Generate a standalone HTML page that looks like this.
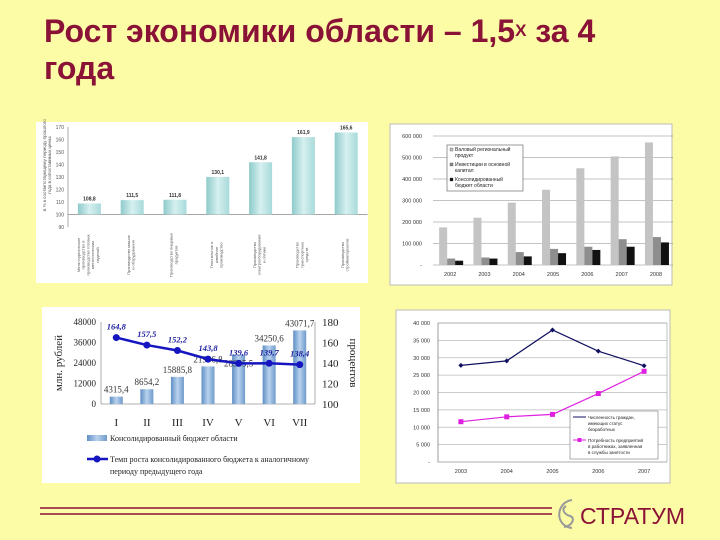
<!DOCTYPE html>
<html><head><meta charset="utf-8">
<style>
html,body{margin:0;padding:0;background:#FCFCA6;}
#root{position:relative;width:720px;height:540px;overflow:hidden;background:#FCFCA6;font-family:"Liberation Sans","Noto Sans CJK SC",sans-serif;}
.title{position:absolute;left:44px;top:13px;font-size:32px;font-weight:bold;color:#8A1236;line-height:37px;margin:0;white-space:nowrap;}
.title sup{font-size:17px;vertical-align:top;position:relative;top:-1px;}
svg{position:absolute;left:0;top:0;}
</style></head>
<body>
<div id="root">
<h1 class="title">Рост экономики области – 1,5<sup>Х</sup> за 4<br>года</h1>
<svg id="s" width="720" height="540" viewBox="0 0 720 540" font-family="Liberation Sans, sans-serif">
 <defs>
  <linearGradient id="gTeal" x1="0" x2="1"><stop offset="0" stop-color="#8ECACA"/><stop offset="0.5" stop-color="#D6F0F0"/><stop offset="1" stop-color="#A8DADA"/></linearGradient>
  <linearGradient id="gBlue" x1="0" x2="1"><stop offset="0" stop-color="#5F8FC4"/><stop offset="0.5" stop-color="#B9D2EE"/><stop offset="1" stop-color="#6E9ACB"/></linearGradient>
 </defs>
 <rect x="36" y="122" width="332" height="161" fill="#fff"/>
 <rect x="390" y="124" width="282" height="161" fill="#fff" stroke="#bbb"/>
 <rect x="42" y="307" width="318" height="176" fill="#fff"/>
 <rect x="396" y="310" width="274" height="173" fill="#fff" stroke="#bbb"/>
 <g id="c1"></g><g id="c2"></g><g id="c3"></g><g id="c4"></g>
 <line x1="40" y1="508" x2="552" y2="508" stroke="#8A1236" stroke-width="1.5"/>
 <line x1="40" y1="514" x2="552" y2="514" stroke="#8A1236" stroke-width="1.5"/>
 <path d="M572 500 C556 502 554 526 572 528 M566 506 C560 510 566 515 570 516 C576 518 572 526 564 527" fill="none" stroke="#999" stroke-width="2"/>
 <text x="580" y="524" font-size="23" fill="#8A1236">СТРАТУМ</text>
</svg>
</div>
<script>
// ---- chart 1 data
const c1Cats=["Металлургическое|производство и|производство готовых|металлических|изделий","Производство машин|и оборудования","Производство пищевых|продуктов","Текстильное и|швейное|производство","Производство|электрооборудования|и оптики","Производство|транспортных|средств","Производство|стройматериалов"];
const c1Vals=[108.8,111.5,111.8,130.1,141.8,161.9,165.6];
const c1Labels=["108,8","111,5","111,8","130,1","141,8","161,9","165,6"];
const c1Ticks=[90,100,110,120,130,140,150,160,170];
// ---- chart 2 data
const c2Years=["2002","2003","2004","2005","2006","2007","2008"];
const c2Grp=[175000,220000,290000,350000,450000,505000,570000];
const c2Inv=[30000,35000,60000,75000,85000,120000,130000];
const c2Bud=[20000,30000,40000,55000,70000,85000,105000];
const c2Ticks=[0,100000,200000,300000,400000,500000,600000];
const c2TickLabels=["-","100 000","200 000","300 000","400 000","500 000","600 000"];
// ---- chart 3 data
const c3Cats=["I","II","III","IV","V","VI","VII"];
const c3Budget=[4315.4,8654.2,15885.8,21996.8,28905.5,34250.6,43071.7];
const c3BudgetLabels=["4315,4","8654,2","15885,8","21996,8","28905,5","34250,6","43071,7"];
const c3Rate=[164.8,157.5,152.2,143.8,139.6,139.7,138.4];
const c3RateLabels=["164,8","157,5","152,2","143,8","139,6","139,7","138,4"];
const c3LeftTicks=[0,12000,24000,36000,48000];
const c3RightTicks=[100,120,140,160,180];
// ---- chart 4 data
const c4Years=["2003","2004","2005","2006","2007"];
const c4Unemp=[27800,29100,38000,31900,27700];
const c4Demand=[11600,13000,13700,19700,26100];
const c4Ticks=[0,5000,10000,15000,20000,25000,30000,35000,40000];
const c4TickLabels=["-","5 000","10 000","15 000","20 000","25 000","30 000","35 000","40 000"];

const NS="http://www.w3.org/2000/svg";
function mk(p,tag,at,txt){const e=document.createElementNS(NS,tag);for(const k in at)e.setAttribute(k,at[k]);if(txt!==undefined)e.textContent=txt;p.appendChild(e);return e;}

// ===== chart 1
(function(){
 const g=document.getElementById('c1');
 const y=v=>127+(170-v)*1.25, x0=68, step=42.8, x=i=>x0+step*(i+0.5);
 c1Ticks.forEach(t=>{const e=mk(g,'text',{x:64,y:y(t)+2,'font-size':5,'text-anchor':'end',fill:'#555'},String(t));
 });
 mk(g,'line',{x1:x0,y1:y(170),x2:x0,y2:y(90),stroke:'#888','stroke-width':0.7});
 mk(g,'line',{x1:x0,y1:y(100),x2:x0+step*7,y2:y(100),stroke:'#888','stroke-width':0.7});
 const yt=mk(g,'text',{x:0,y:0,'font-size':4.5,fill:'#555','text-anchor':'middle',transform:'translate(46,165) rotate(-90)'});
 
 mk(yt,'tspan',{x:0,dy:0},"в % к соответствующему периоду прошлого");
 mk(yt,'tspan',{x:0,dy:5},"года в сопоставимых ценах");
 c1Vals.forEach((v,i)=>{
  const b=mk(g,'rect',{x:x(i)-11.5,y:y(v),width:23,height:y(100)-y(v),fill:'url(#gTeal)'});
  
  const l=mk(g,'text',{x:x(i),y:y(v)-3,'font-size':5,'font-weight':'bold','text-anchor':'middle',fill:'#333'},c1Labels[i]);
  
  const lines=c1Cats[i].split('|');
  const c=mk(g,'text',{x:0,y:0,'font-size':4,fill:'#555','text-anchor':'middle',transform:`translate(${x(i)-(lines.length-1)*2.4},255) rotate(-90)`});
  
  lines.forEach((s,k)=>mk(c,'tspan',{x:0,dy:k?4.8:0},s));
 });
})();

// ===== chart 2
(function(){
 const g=document.getElementById('c2');
 const y=v=>265-v/600000*129, x0=433, step=34.3, cx=i=>x0+step*(i+0.5);
 c2Ticks.forEach((t,i)=>{
  mk(g,'line',{x1:x0,y1:y(t),x2:673,y2:y(t),stroke:'#888','stroke-width':0.6});
  const e=mk(g,'text',{x:422,y:y(t)+2,'font-size':5.5,'text-anchor':'end',fill:'#333'},c2TickLabels[i]);
  
 });
 c2Years.forEach((yr,i)=>{
  [[c2Grp,'#C4C4C4',-11],[c2Inv,'#8E8E8E',-3],[c2Bud,'#111',5]].forEach(([arr,col,off])=>{
   const b=mk(g,'rect',{x:cx(i)+off,y:y(arr[i]),width:8,height:y(0)-y(arr[i]),fill:col});
   
  });
  const t=mk(g,'text',{x:cx(i),y:276,'font-size':5.5,'text-anchor':'middle',fill:'#333'},yr);
  
 });
 const lg=mk(g,'g',{});
 mk(lg,'rect',{x:447,y:145,width:76,height:46,fill:'#fff',stroke:'#555','stroke-width':0.6});
 [['#C4C4C4','Валовый региональный','продукт'],['#8E8E8E','Инвестиции в основной','капитал'],['#111','Консолидированный','бюджет области']].forEach((it,k)=>{
  mk(lg,'rect',{x:450,y:148+k*15,width:3,height:3,fill:it[0],stroke:'#333','stroke-width':0.3});
  mk(lg,'text',{x:455,y:151+k*15,'font-size':5,fill:'#222'},it[1]);
  mk(lg,'text',{x:455,y:157+k*15,'font-size':5,fill:'#222'},it[2]);
 });
})();

// ===== chart 3
(function(){
 const g=document.getElementById('c3');
 const yl=v=>404-v/48000*82, yr=v=>404-(v-100)/80*82, x0=101, x1=315, step=(x1-x0)/7, cx=i=>x0+step*(i+0.5);
 mk(g,'line',{x1:x0,y1:322,x2:x0,y2:404,stroke:'#999','stroke-width':0.8});
 mk(g,'line',{x1:x1,y1:322,x2:x1,y2:404,stroke:'#999','stroke-width':0.8});
 mk(g,'line',{x1:x0,y1:404,x2:x1,y2:404,stroke:'#999','stroke-width':0.8});
 c3LeftTicks.forEach(t=>{const e=mk(g,'text',{x:96,y:yl(t)+3,'font-size':9,'text-anchor':'end',fill:'#222','font-family':'Liberation Serif, serif'},String(t));
  });
 c3RightTicks.forEach(t=>{const e=mk(g,'text',{x:322,y:yr(t)+4,'font-size':11,fill:'#222','font-family':'Liberation Serif, serif'},String(t));
  });
 const lt=mk(g,'text',{x:0,y:0,'font-size':11,'text-anchor':'middle',fill:'#222','font-family':'Liberation Serif, serif',transform:'translate(62,363) rotate(-90)'},'млн. рублей');
 
 const rt=mk(g,'text',{x:0,y:0,'font-size':11,'text-anchor':'middle',fill:'#222','font-family':'Liberation Serif, serif',transform:'translate(350,363) rotate(90)'},'процентов');
 
 c3Cats.forEach((c,i)=>{
  const b=mk(g,'rect',{x:cx(i)-6.5,y:yl(c3Budget[i]),width:13,height:404-yl(c3Budget[i]),fill:'url(#gBlue)'});
  
  const t=mk(g,'text',{x:cx(i),y:426,'font-size':11,'text-anchor':'middle',fill:'#222','font-family':'Liberation Serif, serif'},c);
  
  const l=mk(g,'text',{x:cx(i),y:i==4?yl(c3Budget[i])+12:yl(c3Budget[i])-4,'font-size':9,'text-anchor':'middle',fill:'#333','font-family':'Liberation Serif, serif'},c3BudgetLabels[i]);
  
 });
 const pts=c3Rate.map((v,i)=>cx(i)+','+yr(v)).join(' ');
 const pl=mk(g,'polyline',{points:pts,fill:'none',stroke:'#1616C0','stroke-width':2.5});
 
 c3Rate.forEach((v,i)=>{
  const p=mk(g,'circle',{cx:cx(i),cy:yr(v),r:3.5,fill:'#1616C0'});
  
  const l=mk(g,'text',{x:cx(i),y:yr(v)-8,'font-size':8.5,'font-weight':'bold','font-style':'italic','text-anchor':'middle',fill:'#2020A0','font-family':'Liberation Serif, serif'},c3RateLabels[i]);
  
 });
 const lg=mk(g,'g',{});
 mk(lg,'rect',{x:87,y:435,width:20,height:6,fill:'url(#gBlue)'});
 mk(lg,'text',{x:110,y:441,'font-size':8,fill:'#222','font-family':'Liberation Serif, serif'},'Консолидированный бюджет области');
 mk(lg,'line',{x1:87,y1:459,x2:108,y2:459,stroke:'#1616C0','stroke-width':2.5});
 mk(lg,'circle',{cx:97,cy:459,r:3.5,fill:'#1616C0'});
 mk(lg,'text',{x:110,y:462,'font-size':8,fill:'#222','font-family':'Liberation Serif, serif'},'Темп роста консолидированного бюджета к аналогичному');
 mk(lg,'text',{x:110,y:474,'font-size':8,fill:'#222','font-family':'Liberation Serif, serif'},'периоду предыдущего года');
})();

// ===== chart 4
(function(){
 const g=document.getElementById('c4');
 const y=v=>462-v/40000*139, x0=438, x1=667, step=(x1-x0)/5, cx=i=>x0+step*(i+0.5);
 c4Ticks.forEach((t,i)=>{
  mk(g,'line',{x1:x0,y1:y(t),x2:x1,y2:y(t),stroke:'#bbb','stroke-width':0.8});
  const e=mk(g,'text',{x:430,y:y(t)+2,'font-size':5.5,'text-anchor':'end',fill:'#333'},c4TickLabels[i]);
  
 });
 mk(g,'line',{x1:x0,y1:y(40000),x2:x0,y2:y(0),stroke:'#777','stroke-width':0.7});
 mk(g,'rect',{x:x0,y:y(40000),width:x1-x0,height:y(0)-y(40000),fill:'none',stroke:'#999','stroke-width':0.6});
 c4Years.forEach((yr,i)=>{const t=mk(g,'text',{x:cx(i),y:473,'font-size':5.5,'text-anchor':'middle',fill:'#333'},yr);
  });
 const l1=mk(g,'polyline',{points:c4Unemp.map((v,i)=>cx(i)+','+y(v)).join(' '),fill:'none',stroke:'#101060','stroke-width':1.2});
 
 const l2=mk(g,'polyline',{points:c4Demand.map((v,i)=>cx(i)+','+y(v)).join(' '),fill:'none',stroke:'#E020E0','stroke-width':1.2});
 
 c4Unemp.forEach((v,i)=>{const p=mk(g,'path',{d:`M${cx(i)} ${y(v)-2.5}l2.5 2.5l-2.5 2.5l-2.5 -2.5z`,fill:'#101060'});
  });
 c4Demand.forEach((v,i)=>{const p=mk(g,'rect',{x:cx(i)-2.5,y:y(v)-2.5,width:5,height:5,fill:'#E020E0'});
  });
 const lg=mk(g,'g',{});
 mk(lg,'rect',{x:570,y:411,width:88,height:48,fill:'#fff',stroke:'#777','stroke-width':0.6});
 mk(lg,'line',{x1:573,y1:417,x2:586,y2:417,stroke:'#101060','stroke-width':1});
 mk(lg,'text',{x:588,y:419,'font-size':4.5,fill:'#222'},'Численность граждан,');
 mk(lg,'text',{x:588,y:425,'font-size':4.5,fill:'#222'},'имеющих статус');
 mk(lg,'text',{x:588,y:431,'font-size':4.5,fill:'#222'},'безработных');
 mk(lg,'line',{x1:573,y1:440,x2:586,y2:440,stroke:'#E020E0','stroke-width':1});
 mk(lg,'rect',{x:577.5,y:438,width:4,height:4,fill:'#E020E0'});
 mk(lg,'text',{x:588,y:442,'font-size':4.5,fill:'#222'},'Потребность предприятий');
 mk(lg,'text',{x:588,y:448,'font-size':4.5,fill:'#222'},'в работниках, заявленная');
 mk(lg,'text',{x:588,y:454,'font-size':4.5,fill:'#222'},'в службы занятости');
})();
</script>
</body></html>
